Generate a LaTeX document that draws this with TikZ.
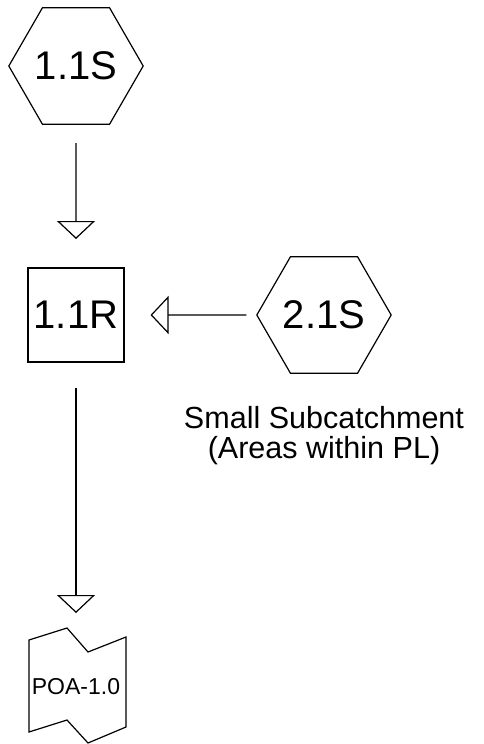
\documentclass[tikz,border=0pt]{standalone}
\usepackage{fontspec}
\setmainfont{Liberation Sans}
\usetikzlibrary{shapes.geometric,arrows.meta}
\begin{document}
\begin{tikzpicture}[x=0.75pt,y=-0.75pt,
  hexnode/.style={draw, regular polygon, regular polygon sides=6, minimum size=93.75pt, inner sep=0pt, outer sep=0pt, fill=white, line width=0.9pt, font=\fontsize{30}{36}\selectfont},
  boxnode/.style={draw, rectangle, minimum width=72pt, minimum height=70.5pt, inner sep=0pt, outer sep=0pt, fill=white, line width=0.9pt, font=\fontsize{30}{36}\selectfont},
  reachbox/.style={rectangle, minimum width=72.75pt, minimum height=69pt, inner sep=0pt, outer sep=0pt, font=\fontsize{17.25}{20}\selectfont},
  flow/.style={line width=1.1pt, -{Triangle[open, length=13.5pt, width=28.5pt, line width=0.9pt]}},
  lbltext/.style={align=center, font=\fontsize{22.9}{22.5}\selectfont}
]
\useasboundingbox (0,0) rectangle (484,744);
\node[hexnode] (s11) at (76,66) {1.1S};
\node[boxnode] (r11) at (76,315) {1.1R};
\node[hexnode] (s21) at (324,315) {2.1S};
\draw[line width=0.9pt, fill=white] (29,640) -- (67,628) -- (88,652) -- (126,637) -- (126,727) -- (88,743) -- (67,720) -- (29,732) -- cycle;
\node[reachbox] (poa) at (76,687) {POA-1.0};
\node[lbltext, anchor=base] (lbl) at (324,458) {Small Subcatchment\\(Areas within PL)};
\draw[flow, shorten <=14.25pt, shorten >=21.75pt] (s11) -- (r11);
\draw[flow, shorten <=7.9pt, shorten >=19.9pt] (s21) -- (r11);
\draw[flow, shorten <=19.5pt, shorten >=21pt] (r11) -- (poa);
\end{tikzpicture}
\end{document}
